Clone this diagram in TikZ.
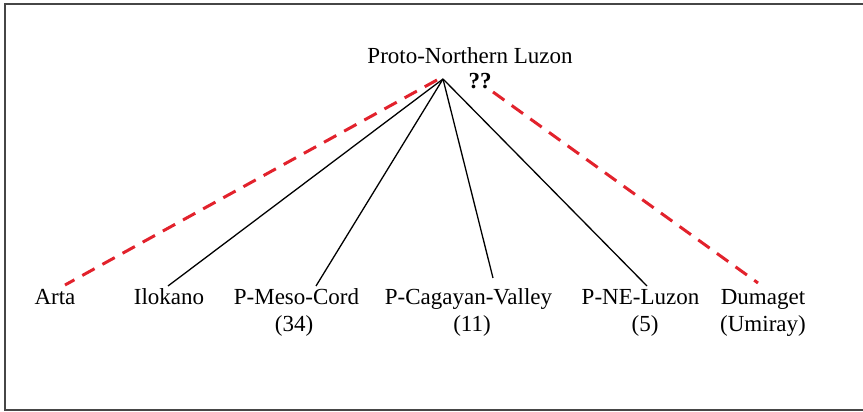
\documentclass[tikz,border=0pt]{standalone}
\usepackage{fontspec}
\setmainfont{Liberation Serif}
\definecolor{dashred}{RGB}{226,34,44}
\definecolor{framegray}{RGB}{70,70,70}
\begin{document}
\begin{tikzpicture}[x=1pt,y=1pt,
  lbl/.style={inner sep=0pt, anchor=base, font=\fontsize{23}{27}\selectfont},
  branch/.style={draw=black, line width=1.3pt},
  doubtful/.style={draw=dashred, line width=3pt, dash pattern=on 14pt off 9pt},
  frameline/.style={draw=framegray, line width=1.6pt}]
\useasboundingbox (0,0) rectangle (863,412);
% frame (top, left, bottom)
\coordinate (fTR) at (863,408);
\coordinate (fTL) at (5,408);
\coordinate (fBL) at (5,2);
\coordinate (fBR) at (863,2);
\draw[frameline] (fTR) -- (fTL) -- (fBL) -- (fBR);
% labels
\node[lbl] (title) at (470,348.5) {Proto-Northern Luzon};
\node[lbl, font=\fontsize{23}{27}\selectfont\bfseries] (qq) at (480,323) {??};
\node[lbl] (arta) at (55,107.5) {Arta};
\node[lbl] (ilo) at (169,107.5) {Ilokano};
\node[lbl] (meso) at (296.5,107.5) {P-Meso-Cord};
\node[lbl] (meso2) at (294,80) {(34)};
\node[lbl] (cag) at (468.5,107.5) {P-Cagayan-Valley};
\node[lbl] (cag2) at (472,80) {(11)};
\node[lbl] (ne) at (640.5,107.5) {P-NE-Luzon};
\node[lbl] (ne2) at (645,80) {(5)};
\node[lbl] (dum) at (763,107.5) {Dumaget};
\node[lbl] (dum2) at (763,80) {(Umiray)};
% connector ends
\coordinate (apex) at (443,333);
\coordinate (aArta) at (437,332);
\coordinate (eArta) at (65,127);
\coordinate (eIlo) at (168,126);
\coordinate (eMeso) at (316,126);
\coordinate (eCag) at (493,134);
\coordinate (eNe) at (647,126);
\coordinate (aDum) at (493,320);
\coordinate (eDum) at (758,129);
% connectors
\draw[doubtful] (aArta) -- (eArta);
\draw[doubtful] (aDum) -- (eDum);
\draw[branch] (apex) -- (eIlo);
\draw[branch] (apex) -- (eMeso);
\draw[branch] (apex) -- (eCag);
\draw[branch] (apex) -- (eNe);
\end{tikzpicture}
\end{document}
